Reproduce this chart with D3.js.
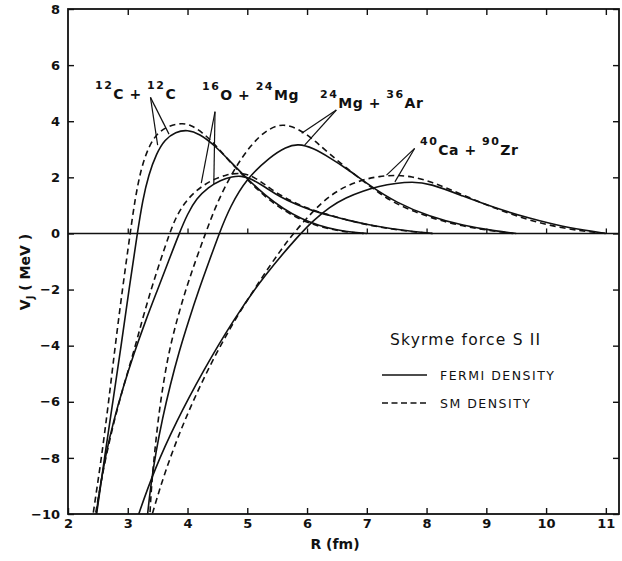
<!DOCTYPE html>
<html>
<head>
<meta charset="utf-8">
<script src="https://cdn.jsdelivr.net/npm/d3@7"></script>
<style>
  body { margin: 0; background: #fff; }
  svg text { font-family: "DejaVu Sans", "Liberation Sans", sans-serif; fill: #111; }
</style>
</head>
<body>
<svg id="chart" width="622" height="561"></svg>
<script>
// ---- data (R in fm, V_J in MeV) ----
const xTicks = [2, 3, 4, 5, 6, 7, 8, 9, 10, 11];
const yTicks = [-10, -8, -6, -4, -2, 0, 2, 4, 6, 8];

// 12C + 12C
const R_c12_fermi = [2.40, 2.48, 2.61, 2.75, 2.89, 3.02, 3.16, 3.25, 3.35, 3.48, 3.62, 3.80, 4.00, 4.20, 4.45, 4.72, 5.00, 5.30, 5.60, 5.90, 6.20, 6.50, 6.80, 7.00];
const V_c12_fermi = [-11.1, -10, -8, -6, -4, -2, 0, 1.2, 2.1, 2.85, 3.35, 3.62, 3.70, 3.55, 3.15, 2.55, 1.95, 1.35, 0.88, 0.52, 0.28, 0.12, 0.03, 0];
const R_c12_sm = [2.35, 2.42, 2.56, 2.68, 2.79, 2.91, 3.04, 3.12, 3.22, 3.35, 3.50, 3.70, 3.90, 4.05, 4.25, 4.45, 4.72, 5.00, 5.30, 5.60, 5.90, 6.20, 6.50, 6.80, 6.95];
const V_c12_sm = [-11, -10, -8, -6, -4, -2, 0, 1.2, 2.3, 3.1, 3.6, 3.85, 3.93, 3.88, 3.6, 3.2, 2.52, 1.92, 1.3, 0.83, 0.48, 0.25, 0.10, 0.02, 0];

// 16O + 24Mg
const R_o16_fermi = [2.40, 2.47, 2.54, 2.63, 2.76, 2.92, 3.10, 3.30, 3.50, 3.68, 3.86, 4.00, 4.15, 4.35, 4.55, 4.75, 4.90, 5.05, 5.30, 5.55, 5.80, 6.10, 6.40, 6.70, 7.00, 7.40, 7.80, 8.10];
const V_o16_fermi = [-11.1, -10, -9.0, -7.9, -6.7, -5.5, -4.3, -3.1, -2.0, -1.0, 0, 0.7, 1.25, 1.65, 1.9, 2.03, 2.05, 1.97, 1.65, 1.30, 1.05, 0.80, 0.63, 0.46, 0.32, 0.17, 0.06, 0];
const R_o16_sm = [2.39, 2.46, 2.54, 2.64, 2.77, 2.92, 3.09, 3.24, 3.39, 3.54, 3.70, 3.80, 3.95, 4.15, 4.40, 4.65, 4.87, 5.05, 5.25, 5.50, 5.80, 6.10, 6.40, 6.70, 7.00, 7.40, 7.80, 8.10];
const V_o16_sm = [-11, -10, -9.0, -7.9, -6.7, -5.5, -4.3, -3.1, -2.0, -1.0, 0, 0.55, 1.1, 1.55, 1.9, 2.1, 2.16, 2.08, 1.82, 1.42, 1.08, 0.82, 0.64, 0.46, 0.31, 0.16, 0.05, 0];

// 24Mg + 36Ar
const R_mg24_fermi = [3.29, 3.33, 3.39, 3.47, 3.58, 3.71, 3.86, 4.02, 4.19, 4.36, 4.53, 4.71, 4.99, 5.38, 5.65, 5.85, 6.10, 6.38, 6.66, 7.05, 7.49, 8.05, 8.61, 9.17, 9.50];
const V_mg24_fermi = [-11, -10, -8.9, -7.8, -6.6, -5.4, -4.2, -3.1, -2.0, -1.0, 0, 0.95, 1.96, 2.73, 3.09, 3.20, 3.05, 2.70, 2.32, 1.70, 1.10, 0.60, 0.28, 0.08, 0];
const R_mg24_sm = [3.35, 3.37, 3.40, 3.45, 3.51, 3.59, 3.69, 3.82, 3.97, 4.13, 4.30, 4.45, 4.60, 4.75, 4.90, 5.05, 5.20, 5.35, 5.50, 5.60, 5.75, 5.95, 6.15, 6.38, 6.66, 6.94, 7.20, 7.49, 8.05, 8.61, 9.17, 9.45];
const V_mg24_sm = [-11, -10, -8.9, -7.8, -6.6, -5.4, -4.2, -3.1, -2.0, -1.0, 0, 0.85, 1.55, 2.15, 2.67, 3.10, 3.45, 3.70, 3.84, 3.87, 3.82, 3.60, 3.27, 2.83, 2.33, 1.86, 1.45, 1.04, 0.56, 0.25, 0.07, 0];

// 40Ca + 90Zr
const R_ca40_fermi = [3.03, 3.18, 3.45, 3.80, 4.26, 4.76, 5.30, 5.89, 6.10, 6.38, 6.65, 6.94, 7.20, 7.49, 7.75, 8.05, 8.61, 9.17, 9.72, 10.28, 10.84, 11.00];
const V_ca40_fermi = [-11, -10, -8.4, -6.75, -4.9, -3.1, -1.45, 0, 0.45, 0.95, 1.28, 1.52, 1.68, 1.79, 1.84, 1.79, 1.33, 0.89, 0.54, 0.24, 0.05, 0];
const R_ca40_sm = [3.27, 3.41, 3.62, 3.92, 4.30, 4.75, 5.25, 5.54, 5.77, 6.10, 6.38, 6.66, 6.94, 7.21, 7.49, 7.75, 8.05, 8.61, 9.17, 9.72, 10.28, 10.84, 11.00];
const V_ca40_sm = [-11, -10, -8.5, -6.8, -5.0, -3.2, -1.55, -0.65, 0, 0.8, 1.35, 1.7, 1.92, 2.04, 2.08, 2.03, 1.87, 1.37, 0.87, 0.46, 0.18, 0.03, 0];

// pointer lines from each reaction label: apex and the two curve targets (data units)
const pointerApex = [[3.38, 4.85], [4.46, 4.34], [6.49, 4.40], [7.80, 3.03]];
const pointerDashed = [[3.50, 3.15], [4.23, 1.79], [5.91, 3.57], [7.33, 2.08]];
const pointerSolid = [[3.69, 3.54], [4.44, 1.76], [5.96, 3.15], [7.47, 1.84]];

// ---- layout ----
const W = 622, H = 561;
const mLeft = 68, mRight = 619, mTop = 9, mBottom = 514;

const svg = d3.select('#chart');

const x = d3.scaleLinear().domain([2, 11.22]).range([mLeft, mRight]);
const y = d3.scaleLinear().domain([-10, 8]).range([mBottom, mTop]);

svg.append('defs').append('clipPath').attr('id', 'plotClip')
  .append('rect').attr('x', mLeft).attr('y', mTop).attr('width', mRight - mLeft).attr('height', mBottom - mTop);

// zero line with small upward ticks
svg.append('line')
  .attr('x1', mLeft).attr('x2', mRight)
  .attr('y1', y(0)).attr('y2', y(0))
  .attr('stroke', '#111').attr('stroke-width', 1.5);
svg.append('g')
  .attr('transform', `translate(0,${y(0)})`)
  .call(d3.axisBottom(x).tickValues(xTicks.slice(1)).tickSizeInner(-5).tickSizeOuter(0).tickFormat(''))
  .call(g => g.select('.domain').remove())
  .selectAll('line').attr('stroke', '#111').attr('stroke-width', 1.3);

// axes
const axisStyle = (g) => {
  g.select('.domain').remove();
  g.selectAll('line').attr('stroke', '#111').attr('stroke-width', 1.4);
  g.selectAll('text').attr('font-size', 13).attr('font-weight', 'bold').attr('fill', '#111')
    .style('font-family', '"DejaVu Sans", sans-serif');
};

svg.append('g')
  .attr('transform', `translate(${mLeft},0)`)
  .call(d3.axisLeft(y).tickValues(yTicks).tickSizeInner(-6).tickSizeOuter(0).tickPadding(8))
  .call(axisStyle);

svg.append('g')
  .attr('transform', `translate(0,${mBottom})`)
  .call(d3.axisBottom(x).tickValues(xTicks).tickSizeInner(-6).tickSizeOuter(0).tickPadding(5))
  .call(axisStyle);

svg.append('g')
  .attr('transform', `translate(0,${mTop})`)
  .call(d3.axisTop(x).tickValues(xTicks.slice(1)).tickSizeInner(-6).tickSizeOuter(0).tickFormat(''))
  .call(axisStyle);

svg.append('g')
  .attr('transform', `translate(${mRight},0)`)
  .call(d3.axisRight(y).tickValues(yTicks).tickSizeInner(-6).tickSizeOuter(0).tickFormat(''))
  .call(axisStyle);

// frame
svg.append('rect')
  .attr('x', mLeft).attr('y', mTop).attr('width', mRight - mLeft).attr('height', mBottom - mTop)
  .attr('fill', 'none').attr('stroke', '#111').attr('stroke-width', 1.8);

// curves
const line = d3.line()
  .x(d => x(d[0]))
  .y(d => y(d[1]))
  .curve(d3.curveBasis);

const curves = [
  [R_c12_fermi, V_c12_fermi, false],
  [R_c12_sm, V_c12_sm, true],
  [R_o16_fermi, V_o16_fermi, false],
  [R_o16_sm, V_o16_sm, true],
  [R_mg24_fermi, V_mg24_fermi, false],
  [R_mg24_sm, V_mg24_sm, true],
  [R_ca40_fermi, V_ca40_fermi, false],
  [R_ca40_sm, V_ca40_sm, true],
];

const gCurves = svg.append('g').attr('clip-path', 'url(#plotClip)');
curves.forEach(([rs, vs, dashed]) => {
  gCurves.append('path')
    .datum(rs.map((r, i) => [r, vs[i]]))
    .attr('d', line)
    .attr('fill', 'none')
    .attr('stroke', '#111')
    .attr('stroke-width', 1.6)
    .attr('stroke-dasharray', dashed ? '6,4' : null);
});

// pointer lines
pointerApex.forEach((a, i) => {
  [pointerDashed[i], pointerSolid[i]].forEach(t => {
    svg.append('line')
      .attr('x1', x(a[0])).attr('y1', y(a[1]))
      .attr('x2', x(t[0])).attr('y2', y(t[1]))
      .attr('stroke', '#111').attr('stroke-width', 1.2);
  });
});

// reaction labels with superscript mass numbers
const labelParts = [
  { x: 95, y: 99, parts: [['12', 1], ['C + ', 0], ['12', 1], ['C', 0]] },
  { x: 202, y: 100, parts: [['16', 1], ['O + ', 0], ['24', 1], ['Mg', 0]] },
  { x: 320, y: 108, parts: [['24', 1], ['Mg + ', 0], ['36', 1], ['Ar', 0]] },
  { x: 420, y: 155, parts: [['40', 1], ['Ca + ', 0], ['90', 1], ['Zr', 0]] },
];
labelParts.forEach(lb => {
  const t = svg.append('text')
    .attr('x', lb.x).attr('y', lb.y)
    .attr('font-size', 14).attr('font-weight', 'bold')
    .attr('xml:space', 'preserve');
  let prevSup = 0;
  lb.parts.forEach(([s, sup]) => {
    const dy = sup === prevSup ? 0 : (sup ? -10 : 10);
    t.append('tspan')
      .attr('dy', dy)
      .attr('font-size', sup ? 11 : 14)
      .attr('letter-spacing', sup ? 1.5 : 0.5)
      .text(s);
    prevSup = sup;
  });
});

// legend
svg.append('text')
  .attr('x', 390).attr('y', 345)
  .attr('font-size', 15.5).attr('letter-spacing', 1.2)
  .text('Skyrme force S II');

svg.append('line')
  .attr('x1', 382).attr('x2', 427).attr('y1', 375).attr('y2', 375)
  .attr('stroke', '#111').attr('stroke-width', 1.6);
svg.append('text')
  .attr('x', 440).attr('y', 380)
  .attr('font-size', 12.5).attr('letter-spacing', 1.5)
  .text('FERMI DENSITY');

svg.append('line')
  .attr('x1', 382).attr('x2', 427).attr('y1', 403).attr('y2', 403)
  .attr('stroke', '#111').attr('stroke-width', 1.6)
  .attr('stroke-dasharray', '6,3.5');
svg.append('text')
  .attr('x', 440).attr('y', 408)
  .attr('font-size', 12.5).attr('letter-spacing', 1.5)
  .text('SM DENSITY');

// axis titles
svg.append('text')
  .attr('x', 335).attr('y', 549)
  .attr('text-anchor', 'middle')
  .attr('font-size', 14).attr('font-weight', 'bold')
  .attr('xml:space', 'preserve')
  .text('R (fm)');

const yt = svg.append('text')
  .attr('transform', 'translate(30,272) rotate(-90)')
  .attr('text-anchor', 'middle')
  .attr('font-size', 14).attr('font-weight', 'bold')
  .attr('xml:space', 'preserve');
yt.append('tspan').text('V');
yt.append('tspan').attr('font-size', 10).attr('dy', 4).text('J');
yt.append('tspan').attr('dy', -4).text(' ( MeV )');
</script>
</body>
</html>
